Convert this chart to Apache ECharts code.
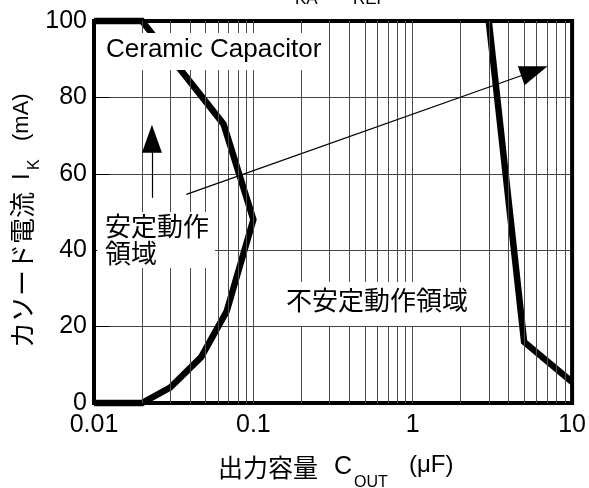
<!DOCTYPE html>
<html>
<head>
<meta charset="utf-8">
<script src="https://cdn.jsdelivr.net/npm/echarts@6/dist/echarts.min.js"></script>
<style>
  html, body { margin: 0; padding: 0; background: #fff; }
  #chart { width: 589px; height: 488px; }
</style>
</head>
<body>
<div id="chart"></div>
<script>
// Stability boundary of the shunt regulator: cathode current vs. output capacitance
const xTickLabels = ['0.01', '0.1', '1', '10'];
const yTickValues = [0, 20, 40, 60, 80, 100];

// Left boundary (lower-left and upper-left of the stable region at small C)
const leftBoundaryC = [0.01, 0.02, 0.03, 0.047, 0.068, 0.1, 0.065, 0.02, 0.01];
const leftBoundaryI = [0, 0, 4, 12, 24, 48, 73, 100, 100];

// Right boundary (stable again at large C)
const rightBoundaryC = [3, 5, 10];
const rightBoundaryI = [100, 16, 5.5];

// Minor and major vertical grid positions on the log axis
const xGridValues = [
  0.02, 0.03, 0.04, 0.05, 0.06, 0.07, 0.08, 0.09, 0.1,
  0.2, 0.3, 0.4, 0.5, 0.6, 0.7, 0.8, 0.9, 1,
  2, 3, 4, 5, 6, 7, 8, 9
];

const zip = (xs, ys) => xs.map((x, i) => [x, ys[i]]);

const LATIN = "'Liberation Sans', Arial, 'Noto Sans CJK JP', sans-serif";
const CJK = "'Noto Sans CJK JP', 'Liberation Sans', sans-serif";

function txt(x, y, text, size, family, extra) {
  return Object.assign({
    type: 'text', x: x, y: y, z: 101,
    style: {
      text: text, fill: '#000', font: size + 'px ' + family,
      align: 'left', verticalAlign: 'middle',
      textAlign: 'left', textVerticalAlign: 'middle'
    }
  }, extra || {});
}

const chart = echarts.init(document.getElementById('chart'), null, { renderer: 'canvas' });

const option = {
  animation: false,
  backgroundColor: '#fff',
  grid: {
    left: 94, right: 16, top: 21, bottom: 85,
    show: true, borderColor: '#000', borderWidth: 4,
    backgroundColor: 'transparent', z: 5
  },
  xAxis: {
    type: 'log', logBase: 10, min: 0.01, max: 10,
    axisLine: { show: false },
    axisTick: { show: true, inside: true, length: 15, lineStyle: { color: '#000', width: 1 } },
    splitLine: { show: false },
    axisLabel: {
      fontSize: 25, fontFamily: LATIN, color: '#000', margin: 10,
      formatter: v => xTickLabels[Math.round(Math.log10(v)) + 2]
    }
  },
  yAxis: {
    type: 'value', min: 0, max: 100, interval: 20,
    axisLine: { show: false },
    axisTick: { show: true, inside: true, length: 15, lineStyle: { color: '#000', width: 1 } },
    splitLine: { show: true, lineStyle: { color: '#444', width: 1 } },
    axisLabel: {
      fontSize: 25, fontFamily: LATIN, color: '#000', margin: 7,
      formatter: v => (yTickValues.indexOf(v) >= 0 ? String(v) : '')
    }
  },
  series: [
    {
      // vertical grid lines of the log axis
      type: 'line', data: [[0.01, 0]], symbol: 'none', z: 1,
      lineStyle: { opacity: 0 }, silent: true,
      markLine: {
        silent: true, symbol: 'none', animation: false,
        label: { show: false },
        lineStyle: { color: '#4a4a4a', width: 1, type: 'solid' },
        emphasis: { disabled: true },
        data: xGridValues.map(v => ({ xAxis: v }))
      }
    },
    {
      // direction arrows
      type: 'line', data: [[0.01, 0]], symbol: 'none', z: 3,
      lineStyle: { opacity: 0 }, silent: true,
      markLine: {
        silent: true, animation: false,
        symbol: ['none', 'triangle'], symbolSize: [20, 28],
        label: { show: false },
        lineStyle: { color: '#000', width: 1.2, type: 'solid' },
        itemStyle: { color: '#000' },
        emphasis: { disabled: true },
        data: [
          [{ coord: [0.038, 54.6] }, { coord: [5.8, 86.9] }],
          [{ coord: [0.0231, 53.7] }, { coord: [0.0231, 69.2] }]
        ]
      }
    },
    {
      name: 'left boundary', type: 'line', data: zip(leftBoundaryC, leftBoundaryI),
      symbol: 'none', clip: false, z: 4,
      lineStyle: { color: '#000', width: 6.5, join: 'miter' }
    },
    {
      name: 'right boundary', type: 'line', data: zip(rightBoundaryC, rightBoundaryI),
      symbol: 'none', clip: false, z: 4,
      lineStyle: { color: '#000', width: 6.5, join: 'miter' }
    }
  ],
  graphic: [
    // condition line at the top (V_KA = V_REF)
    txt(277, -10, 'V', 25, LATIN),
    txt(295, -1, 'KA', 17, LATIN),
    txt(321, -10, '= V', 25, LATIN),
    txt(353, -1, 'REF', 17, LATIN),

    // label boxes
    { type: 'rect', z: 100, shape: { x: 97, y: 33, width: 228, height: 37 }, style: { fill: '#fff' } },
    txt(106, 50, 'Ceramic Capacitor', 26, LATIN),

    { type: 'rect', z: 100, shape: { x: 97, y: 212, width: 118, height: 56 }, style: { fill: '#fff' } },
    txt(105, 226, '安定動作', 26, CJK),
    txt(105, 253, '領域', 26, CJK),

    { type: 'rect', z: 100, shape: { x: 280, y: 282, width: 198, height: 44 }, style: { fill: '#fff' } },
    txt(286, 300, '不安定動作領域', 26, CJK),

    // x axis title
    txt(218, 467, '出力容量', 25, CJK),
    txt(334, 467, 'C', 25, LATIN),
    txt(354, 483, 'OUT', 16, LATIN),
    txt(409, 465, '(μF)', 24, LATIN),

    // y axis title, reading bottom to top
    {
      type: 'group', x: 22, y: 348, rotation: Math.PI / 2, z: 101,
      children: [
        txt(0, 0, 'カソード電流', 26, CJK),
        txt(168, 0, 'I', 24, LATIN),
        txt(178, 13, 'K', 16, LATIN),
        txt(207, 0, '(mA)', 22, LATIN)
      ]
    }
  ]
};

chart.setOption(option);
</script>
</body>
</html>
